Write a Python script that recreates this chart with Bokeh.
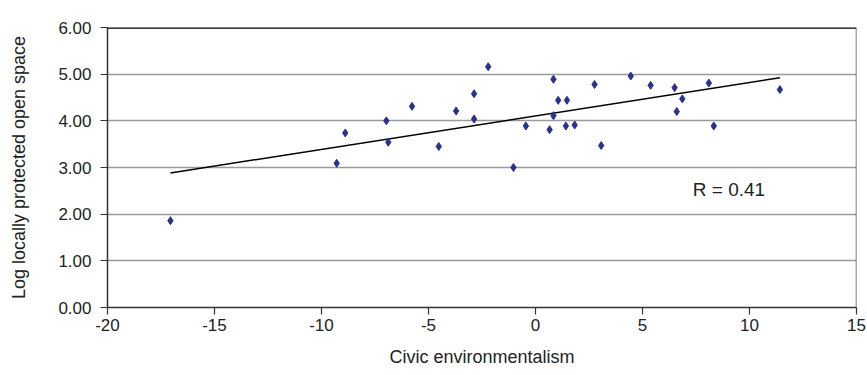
import numpy as np
from bokeh.plotting import figure
from bokeh.models import Span, Label, FixedTicker, ColumnDataSource
from bokeh.embed import file_html
from bokeh.resources import INLINE

# Civic environmentalism score per place, and log of locally protected open space
civic = [-17.06, -9.29, -8.89, -6.97, -6.88, -5.77, -4.52, -3.71, -2.87, -2.87,
         -2.21, -1.03, -0.45, 0.66, 0.84, 0.84, 1.06, 1.47, 1.42, 1.83,
         2.76, 3.07, 4.45, 5.38, 6.50, 6.60, 6.86, 8.10, 8.33, 11.42]
open_space = [1.86, 3.09, 3.74, 4.00, 3.54, 4.31, 3.45, 4.21, 4.58, 4.04,
              5.16, 3.00, 3.89, 3.81, 4.89, 4.11, 4.44, 4.44, 3.89, 3.91,
              4.78, 3.47, 4.96, 4.76, 4.71, 4.20, 4.47, 4.81, 3.89, 4.67]

x_ticks = [-20, -15, -10, -5, 0, 5, 10, 15]
y_ticks = [0, 1, 2, 3, 4, 5, 6]

FONT = "Liberation Sans"

p = figure(width=867, height=375, x_range=(-20, 15), y_range=(0, 6),
           output_backend="svg", toolbar_location=None,
           min_border_left=107, min_border_right=11,
           min_border_top=27, min_border_bottom=68)
p.outline_line_color = None
p.background_fill_color = "white"
p.border_fill_color = "white"

# Linear trend over the points
slope, intercept = np.polyfit(civic, open_space, 1)
tx = np.array([min(civic), max(civic)])
ty = intercept + slope * tx
p.line(tx, ty, line_color="black", line_width=1.5)

src = ColumnDataSource(dict(x=civic, y=open_space))
p.scatter("x", "y", source=src, marker="diamond", size=8,
          fill_color="#2B3190", line_color="#2B3190")

# Axes
for ax in (p.xaxis[0], p.yaxis[0]):
    ax.axis_line_color = "#333333"
    ax.axis_line_width = 1.5
    ax.major_tick_line_color = "#333333"
    ax.major_tick_line_width = 1.2
    ax.major_tick_out = 7
    ax.major_tick_in = 0
    ax.minor_tick_line_color = None
    ax.major_label_text_font = FONT
    ax.major_label_text_font_size = "17px"
    ax.major_label_text_color = "#222222"
    ax.axis_label_text_font = FONT
    ax.axis_label_text_font_size = "18px"
    ax.axis_label_text_font_style = "normal"
    ax.axis_label_text_color = "#222222"

p.xaxis.ticker = FixedTicker(ticks=x_ticks)
p.yaxis.ticker = FixedTicker(ticks=y_ticks)
p.yaxis.major_label_overrides = {t: f"{t:.2f}" for t in y_ticks}
p.xaxis.major_label_overrides = {t: str(t) for t in x_ticks}
p.xaxis.axis_label = "Civic environmentalism"
p.yaxis.axis_label = "Log locally protected open space"
p.xaxis.major_label_standoff = 4
p.xaxis.axis_label_standoff = 13
p.yaxis.major_label_standoff = 9
p.yaxis.axis_label_standoff = 26

p.xgrid.grid_line_color = None
p.ygrid.grid_line_color = "#9a9a9a"
p.ygrid.grid_line_width = 1.3

# Frame edges: heavy top, light right
p.add_layout(Span(location=6, dimension="width", line_color="black", line_width=2.5))
p.add_layout(Span(location=15, dimension="height", line_color="#555555", line_width=1.5))

p.add_layout(Label(x=7.35, y=2.53, text="R = 0.41", text_font=FONT,
                   text_font_size="19px", text_color="#222222",
                   text_baseline="middle"))

open("out.html", "w").write(file_html(p, INLINE))
